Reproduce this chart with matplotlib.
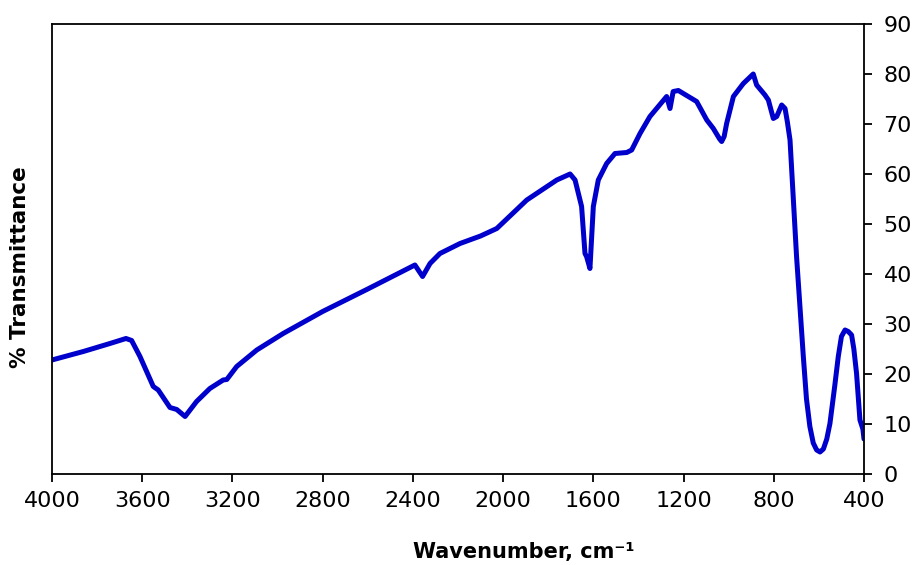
import matplotlib
matplotlib.use("Agg")
import matplotlib.pyplot as plt
import numpy as np

# FTIR spectrum
wavenumber = [4000, 3861, 3743, 3672, 3647, 3610, 3551, 3529, 3477, 3447,
              3410, 3359, 3300, 3241, 3225, 3181, 3092, 2975, 2800, 2600,
              2391, 2357, 2324, 2280, 2191, 2100, 2028, 1895, 1762, 1703,
              1681, 1652, 1637, 1630, 1615, 1600, 1578, 1541, 1504, 1452,
              1430, 1393, 1349, 1275, 1260, 1246, 1223, 1142, 1097, 1068,
              1040, 1031, 1020, 1009, 979, 935, 891, 876, 839, 824,
              802, 787, 765, 750, 740, 728, 699, 669, 655, 640,
              625, 610, 595, 580, 565, 551, 530, 514, 500, 484,
              470, 455, 445, 433, 418, 405, 400]
transmittance = [22.8, 24.5, 26.1, 27.1, 26.7, 23.5, 17.5, 16.8, 13.3, 12.9,
                 11.5, 14.5, 17.1, 18.8, 18.9, 21.5, 24.8, 28.1, 32.5, 37.0,
                 41.8, 39.5, 42.1, 44.1, 46.1, 47.6, 49.1, 54.8, 58.8, 60.0,
                 58.8, 53.5, 44.1, 43.5, 41.1, 53.5, 58.8, 62.1, 64.1, 64.3,
                 64.8, 68.1, 71.5, 75.5, 73.1, 76.5, 76.7, 74.5, 70.8, 69.1,
                 67.0, 66.5, 67.5, 70.1, 75.5, 78.1, 80.0, 77.8, 75.8, 74.8,
                 71.1, 71.5, 73.8, 73.1, 70.5, 66.8, 43.5, 23.5, 15.0, 9.5,
                 6.2, 4.8, 4.4, 5.0, 7.0, 10.1, 17.5, 23.5, 27.5, 28.8,
                 28.5, 27.8, 25.0, 20.1, 10.8, 9.0, 7.0]

x_ticks = [4000, 3600, 3200, 2800, 2400, 2000, 1600, 1200, 800, 400]
y_ticks = [0, 10, 20, 30, 40, 50, 60, 70, 80, 90]

plt.rcParams['font.family'] = ['DejaVu Sans']

fig = plt.figure(figsize=(9.17, 5.65), dpi=100)
ax = fig.add_axes([0.0567, 0.1611, 0.8855, 0.7964])

ax.plot(wavenumber, transmittance, color='#0000CC', lw=3.6,
        solid_joinstyle='round', solid_capstyle='round')

ax.set_xlim(4000, 400)
ax.set_ylim(0, 90)
ax.set_xticks(x_ticks)
ax.set_yticks(y_ticks)

# y axis lives on the right
ax.yaxis.tick_right()
ax.tick_params(axis='both', direction='out', length=6, width=1.3,
               labelsize=16, colors='black')
ax.tick_params(axis='x', pad=6)
ax.tick_params(axis='y', pad=8)
for s in ax.spines.values():
    s.set_linewidth(1.3)

fig.text(0.022, 0.527, '% Transmittance', rotation=90, fontsize=15.5,
         fontweight='bold', ha='center', va='center')
fig.text(0.571, 0.023, 'Wavenumber, cm\u207b\u00b9', fontsize=15,
         fontweight='bold', ha='center', va='center')

fig.savefig('out.png', dpi=100)
